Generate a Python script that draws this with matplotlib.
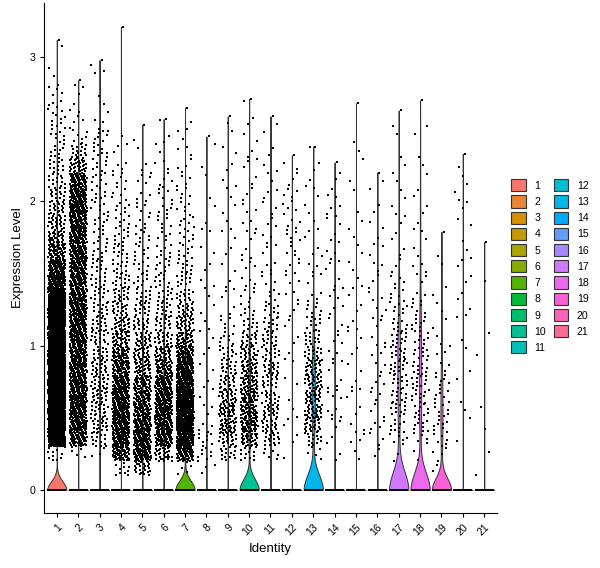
import numpy as np
import matplotlib
matplotlib.use("Agg")
import matplotlib.pyplot as plt
from matplotlib.patches import Patch

plt.rcParams['font.family'] = ['Liberation Sans', 'DejaVu Sans']

# ---- data ----
clusters = [str(i) for i in range(1, 22)]

# cells with zero expression per cluster
zero_counts = [7150, 5000, 1500, 3000, 2600, 2600, 2000, 400, 900, 780, 900,
               400, 440, 300, 300, 300, 295, 260, 138, 200, 200]

# highest value in each cluster
top_values = [3.12, 2.84, 2.98, 3.21, 2.53, 2.57, 2.65, 2.45, 2.59, 2.71, 2.59,
              2.32, 2.38, 2.27, 2.68, 2.20, 2.63, 2.70, 1.79, 2.33, 1.72]

# counts of non-zero cells in bins of 0.1 (bin k = [k/10, (k+1)/10))
bin_counts = {
    '1':  [0, 0, 10, 150, 250, 300, 320, 320, 300, 280, 250, 220, 180, 150, 110, 80, 50,
           35, 28, 22, 18, 14, 12, 10, 8, 8, 7, 4, 2, 1, 1],
    '2':  [0, 0, 5, 52, 75, 80, 80, 80, 75, 75, 72, 72, 70, 66, 63, 63, 66, 70, 76,
           80, 72, 55, 35, 17, 7, 4, 3, 2, 1],
    '3':  [0, 0, 3, 15, 20, 22, 22, 22, 20, 18, 18, 16, 14, 12, 12, 10, 9, 8, 8, 7, 8, 8,
           7, 8, 8, 3, 2, 1, 1, 2],
    '4':  [0, 10, 60, 80, 85, 85, 80, 70, 55, 45, 35, 28, 22, 18, 14, 12, 10, 9, 8, 8, 6,
           5, 4, 3, 1],
    '5':  [0, 25, 70, 75, 75, 65, 55, 45, 35, 30, 25, 20, 16, 12, 10, 8, 7, 7, 6, 5, 4, 4,
           3, 1, 1],
    '6':  [0, 0, 30, 65, 75, 75, 70, 60, 45, 35, 25, 18, 14, 12, 10, 8, 8, 6, 6, 6, 6, 4,
           3, 2, 2, 1],
    '7':  [0, 5, 60, 120, 140, 140, 130, 110, 90, 60, 40, 30, 22, 16, 12, 10, 8, 7, 7, 6,
           5, 4, 4, 3, 2, 2],
    '8':  [0, 3, 8, 8, 4, 3, 2, 2, 2, 2, 2, 2, 2, 2, 2, 2, 2, 1, 2, 1, 1, 1, 1, 1],
    '9':  [0, 0, 15, 25, 35, 35, 28, 22, 18, 14, 8, 5, 3, 3, 2, 2, 2, 2, 2, 2, 2, 2, 2, 2,
           1, 1],
    '10': [0, 0, 12, 35, 45, 45, 42, 38, 32, 25, 18, 12, 8, 5, 4, 4, 3, 3, 3, 3, 3, 2, 3,
           2, 2, 2, 1],
    '11': [0, 0, 6, 18, 20, 20, 18, 18, 18, 16, 14, 12, 9, 6, 4, 4, 3, 3, 3, 3, 3, 2, 2, 2,
           1, 1],
    '12': [0, 0, 1, 2, 2, 2, 1, 2, 1, 2, 2, 2, 3, 3, 3, 4, 5, 5, 5, 5, 4, 3, 2],
    '13': [0, 0, 5, 15, 25, 30, 30, 28, 25, 20, 15, 10, 7, 4, 3, 3, 3, 2, 2, 2, 2, 2, 2, 1],
    '14': [0, 0, 2, 2, 3, 4, 4, 3, 3, 3, 3, 3, 3, 3, 3, 3, 3, 3, 3, 3, 3, 2],
    '15': [0, 0, 2, 3, 3, 2, 3, 2, 2, 2, 2, 3, 2, 2, 2, 2, 2, 1, 2, 1, 1, 1, 1, 1, 1],
    '16': [0, 0, 2, 3, 4, 3, 3, 4, 3, 3, 3, 3, 3, 3, 3, 3, 2, 2, 2, 2, 1, 1],
    '17': [0, 0, 2, 6, 10, 12, 12, 12, 14, 14, 12, 10, 8, 6, 4, 3, 2, 2, 2, 2, 2, 2, 1, 1,
           1, 1],
    '18': [0, 0, 2, 5, 9, 10, 11, 11, 11, 10, 9, 8, 6, 4, 3, 3, 2, 2, 2, 2, 2, 1, 1, 1, 1,
           1],
    '19': [0, 2, 4, 6, 8, 8, 7, 6, 4, 3, 2, 2, 2, 1, 1, 1, 1],
    '20': [0, 0, 0, 1, 1, 1, 1, 1, 1, 1, 1, 1, 2, 2, 2, 2, 2, 1, 2, 2, 2, 2, 1],
    '21': [0, 1, 1, 0, 1, 1, 0, 0, 0, 1, 1, 0, 0, 0, 1],
}


def hue_pal(n, c=100.0, l=65.0):
    # ggplot2 default hue palette (hcl -> sRGB)
    hues = np.linspace(15, 375, n + 1)[:n]
    xn, yn, zn = 95.047, 100.0, 108.883
    un = 4 * xn / (xn + 15 * yn + 3 * zn)
    vn = 9 * yn / (xn + 15 * yn + 3 * zn)
    m = np.array([[3.240479, -1.537150, -0.498535],
                  [-0.969256, 1.875992, 0.041556],
                  [0.055648, -0.204043, 1.057311]])
    out = []
    for h in hues:
        u = c * np.cos(np.radians(h))
        v = c * np.sin(np.radians(h))
        y = yn * ((l + 16) / 116) ** 3
        up = u / (13 * l) + un
        vp = v / (13 * l) + vn
        x = 9.0 * y * up / (4 * vp)
        z = -x / 3 - 5 * y + 3 * y / vp
        rgb = m @ (np.array([x, y, z]) / 100.0)
        rgb = np.where(rgb > 0.00304, 1.055 * np.abs(rgb) ** (1 / 2.4) - 0.055, 12.92 * rgb)
        out.append(tuple(np.clip(rgb, 0, 1)))
    return out


def nrd0(kde):
    # R's bw.nrd0; Seurat's tiny noise makes the IQR ~1e-5 when most cells are 0
    d = kde.dataset.ravel()
    sd = d.std(ddof=1)
    q75, q25 = np.percentile(d, [75, 25])
    lo = min(sd, (q75 - q25) / 1.34)
    if lo <= 0:
        lo = 1e-5
    return 0.9 * lo * len(d) ** -0.2 / sd


colors = hue_pal(len(clusters))
a1, a2 = 0.7548776662, 0.5698402910

values = []
xs, ys = [], []
for ci, name in enumerate(clusters):
    pos = ci + 1
    base = []
    for k, n in enumerate(bin_counts[name]):
        base += [k / 10.0] * n
    base = np.array(base)
    # spread the cells inside their bin, jitter them sideways (low-discrepancy, no rng)
    i = np.arange(len(base)) + 1 + ci * 131
    nz_y = base + ((0.5 + i * a2) % 1.0) / 10.0
    nz_x = pos + ((0.5 + i * a1) % 1.0 - 0.5) * 0.8
    nz_y = np.append(nz_y, top_values[ci])
    nz_x = np.append(nz_x, pos + 0.1)
    j = np.arange(zero_counts[ci]) + 1
    z_x = pos + ((0.5 + j * 0.6180339887) % 1.0 - 0.5) * 0.8
    z_y = np.zeros(zero_counts[ci])
    values.append(np.concatenate([z_y, nz_y]))
    xs.append(np.concatenate([z_x, nz_x]))
    ys.append(np.concatenate([z_y, nz_y]))

fig = plt.figure(figsize=(6.0, 5.68), dpi=100)
ax = fig.add_axes([44 / 600, 55 / 568, 453 / 600, 510 / 568])

parts = ax.violinplot(values, positions=range(1, 22), widths=0.9, showextrema=False,
                      points=512, bw_method=nrd0)
for body, col in zip(parts['bodies'], colors):
    body.set_facecolor(col)
    body.set_edgecolor('#333333')
    body.set_linewidth(0.7)
    body.set_alpha(1)
    body.set_zorder(2)

ax.scatter(np.concatenate(xs), np.concatenate(ys), s=1.3, marker='s', c='black',
           linewidths=0, zorder=3)

ax.set_xlim(0.4, 21.6)
ax.set_ylim(-0.16, 3.375)
ax.set_xticks(range(1, 22))
ax.set_xticklabels(clusters, rotation=45, ha='right', va='top', rotation_mode='anchor')
ax.set_yticks([0, 1, 2, 3])
ax.tick_params(axis='both', labelsize=7.6, length=3, width=0.8, colors='black')
for side in ['top', 'right']:
    ax.spines[side].set_visible(False)
for side in ['left', 'bottom']:
    ax.spines[side].set_linewidth(0.8)
ax.set_xlabel('Identity', fontsize=9.5)
ax.set_ylabel('Expression Level', fontsize=9.5)

handles = [Patch(facecolor=col, edgecolor='#333333', linewidth=0.8) for col in colors]
fig.legend(handles, clusters, loc='upper left', bbox_to_anchor=(506 / 600, 1 - 174 / 568),
           ncol=2, frameon=False, fontsize=7.6, handlelength=1.4, handleheight=1.4,
           labelspacing=0.38, handletextpad=0.8, columnspacing=0.7, borderpad=0)

fig.savefig('out.png', dpi=100)
